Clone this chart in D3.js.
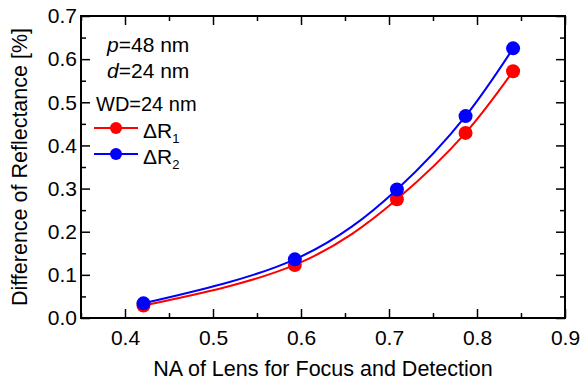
<!DOCTYPE html>
<html>
<head>
<meta charset="utf-8">
<script src="https://cdn.jsdelivr.net/npm/d3@7"></script>
<style>
  body { margin: 0; background: #fff; }
  text { font-family: "Liberation Sans", Arial, sans-serif; fill: #000; }
</style>
</head>
<body>
<div id="chart"></div>
<script>
// values
var na = [0.421, 0.593, 0.709, 0.787, 0.841];
var dR1 = [0.029, 0.123, 0.275, 0.429, 0.572];
var dR2 = [0.034, 0.136, 0.298, 0.468, 0.625];
var xTicks = [0.4, 0.5, 0.6, 0.7, 0.8, 0.9];
var yTicks = [0.0, 0.1, 0.2, 0.3, 0.4, 0.5, 0.6, 0.7];
var seriesNames = ["1", "2"];
var seriesColors = ["#ff0000", "#0000ff"];

var W = 580, H = 381;
var mLeft = 81, mRight = 565, mTop = 16, mBottom = 318;

var svg = d3.select("#chart").append("svg")
    .attr("width", W)
    .attr("height", H);

var x = d3.scaleLinear().domain([0.35, 0.9]).range([mLeft, mRight]);
var y = d3.scaleLinear().domain([0, 0.7]).range([mBottom, mTop]);

var minorX = [0.35, 0.45, 0.55, 0.65, 0.75, 0.85];
var minorY = [0.05, 0.15, 0.25, 0.35, 0.45, 0.55, 0.65];

function axisStyle(g) {
  g.select(".domain").remove();
  g.selectAll("line").attr("stroke", "#000").attr("stroke-width", 1.5);
  g.selectAll("text").style("font-size", "21px").attr("fill", "#000");
}

// bottom
svg.append("g").attr("transform", "translate(0," + mBottom + ")")
  .call(d3.axisBottom(x).tickValues(xTicks).tickSize(-9).tickPadding(12).tickFormat(d3.format(".1f")))
  .call(axisStyle);
svg.append("g").attr("transform", "translate(0," + mBottom + ")")
  .call(d3.axisBottom(x).tickValues(minorX).tickSize(-5).tickFormat(""))
  .call(axisStyle);
// top
svg.append("g").attr("transform", "translate(0," + mTop + ")")
  .call(d3.axisTop(x).tickValues(xTicks).tickSize(-9).tickFormat(""))
  .call(axisStyle);
svg.append("g").attr("transform", "translate(0," + mTop + ")")
  .call(d3.axisTop(x).tickValues(minorX).tickSize(-5).tickFormat(""))
  .call(axisStyle);
// left
svg.append("g").attr("transform", "translate(" + mLeft + ",0)")
  .call(d3.axisLeft(y).tickValues(yTicks).tickSize(-9).tickPadding(4).tickFormat(d3.format(".1f")))
  .call(axisStyle);
svg.append("g").attr("transform", "translate(" + mLeft + ",0)")
  .call(d3.axisLeft(y).tickValues(minorY).tickSize(-5).tickFormat(""))
  .call(axisStyle);
// right
svg.append("g").attr("transform", "translate(" + mRight + ",0)")
  .call(d3.axisRight(y).tickValues(yTicks).tickSize(-9).tickFormat(""))
  .call(axisStyle);
svg.append("g").attr("transform", "translate(" + mRight + ",0)")
  .call(d3.axisRight(y).tickValues(minorY).tickSize(-5).tickFormat(""))
  .call(axisStyle);

// frame
svg.append("rect")
  .attr("x", mLeft).attr("y", mTop)
  .attr("width", mRight - mLeft).attr("height", mBottom - mTop)
  .attr("fill", "none").attr("stroke", "#000").attr("stroke-width", 2);

// axis titles
svg.append("text")
  .attr("x", (mLeft + mRight) / 2).attr("y", 376)
  .attr("text-anchor", "middle")
  .style("font-size", "21.5px")
  .text("NA of Lens for Focus and Detection");

svg.append("text")
  .attr("transform", "translate(27," + ((mTop + mBottom) / 2) + ") rotate(-90)")
  .attr("text-anchor", "middle")
  .style("font-size", "21.5px")
  .text("Difference of Reflectance [%]");

// curves
var line = d3.line()
  .x(d => x(d[0]))
  .y(d => y(d[1]))
  .curve(d3.curveNatural);

[dR1, dR2].forEach(function (vals, k) {
  var pts = na.map((v, i) => [v, vals[i]]);
  svg.append("path")
    .datum(pts)
    .attr("d", line)
    .attr("fill", "none")
    .attr("stroke", seriesColors[k])
    .attr("stroke-width", 2);
  svg.selectAll(".pt" + k)
    .data(pts)
    .enter().append("circle")
    .attr("cx", d => x(d[0]))
    .attr("cy", d => y(d[1]))
    .attr("r", 7)
    .attr("fill", seriesColors[k]);
});

// annotation
var ann = svg.append("g");
var t1 = ann.append("text").attr("x", 107).attr("y", 52).style("font-size", "21px");
t1.append("tspan").style("font-style", "italic").text("p");
t1.append("tspan").text("=48 nm");
var t2 = ann.append("text").attr("x", 107).attr("y", 78).style("font-size", "21px");
t2.append("tspan").style("font-style", "italic").text("d");
t2.append("tspan").text("=24 nm");
ann.append("text").attr("x", 96).attr("y", 111).style("font-size", "20px").text("WD=24 nm");

// legend
seriesNames.forEach(function (nm, k) {
  var ly = 128 + k * 26;
  ann.append("line")
    .attr("x1", 94).attr("x2", 138)
    .attr("y1", ly).attr("y2", ly)
    .attr("stroke", seriesColors[k]).attr("stroke-width", 2);
  ann.append("circle")
    .attr("cx", 116).attr("cy", ly).attr("r", 6)
    .attr("fill", seriesColors[k]);
  var lt = ann.append("text").attr("x", 143).attr("y", ly + 10).style("font-size", "21px");
  lt.append("tspan").text("\u0394R");
  lt.append("tspan").attr("dy", 5).style("font-size", "13px").text(nm);
});
</script>
</body>
</html>
